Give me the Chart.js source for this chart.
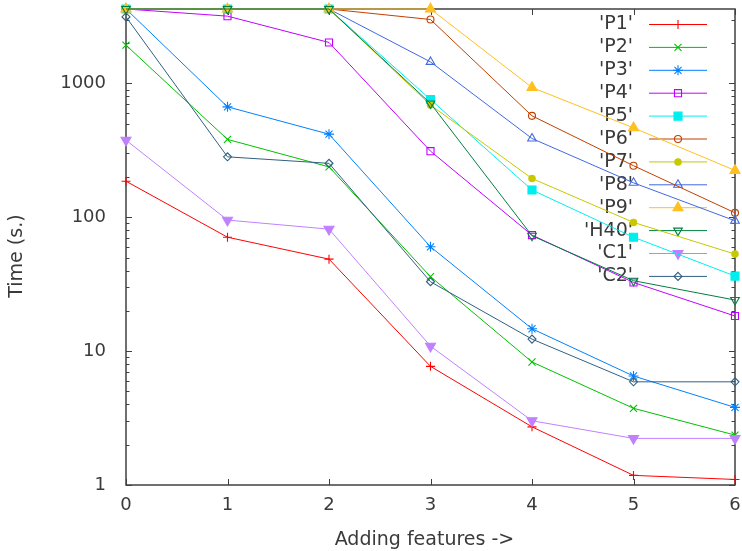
<!DOCTYPE html>
<html><head><meta charset="utf-8">
<script src="https://cdn.jsdelivr.net/npm/chart.js@4.4.1/dist/chart.umd.min.js"></script>
<style>html,body{margin:0;padding:0;background:#fff}#wrap{width:742px;height:551px;position:relative}</style>
</head><body><div id="wrap"><canvas id="c" width="742" height="551"></canvas></div>
<script>
// ---- data ----
const categories = ['0', '1', '2', '3', '4', '5', '6'];
const seriesNames = ["'P1'", "'P2'", "'P3'", "'P4'", "'P5'", "'P6'", "'P7'", "'P8'", "'P9'", "'H40'", "'C1'", "'C2'"];
const P1  = [186, 71, 48.7, 7.7, 2.72, 1.18, 1.10];
const P2  = [1932, 382, 238, 36, 8.3, 3.74, 2.36];
const P3  = [3600, 669, 418, 60.2, 14.7, 6.52, 3.8];
const P4  = [3600, 3183, 2024, 312, 73.6, 32.6, 18.3];
const P5  = [3600, 3600, 3600, 759, 160, 71, 36.4];
const P6  = [3600, 3600, 3600, 3005, 573, 243, 108];
const P7  = [3600, 3600, 3600, 690, 195, 91.6, 53.1];
const P8  = [3600, 3600, 3600, 1449, 388, 181, 94.2];
const P9  = [3600, 3600, 3600, 3600, 933, 466, 224];
const H40 = [3600, 3600, 3600, 709, 72.8, 33.6, 24.1];
const C1  = [377, 95.3, 81.6, 10.9, 3.02, 2.23, 2.23];
const C2  = [3143, 283, 253, 33, 12.3, 5.9, 5.9];
const yTickValues = [1, 10, 100, 1000];
const yMin = 1, yMax = 3600;

// ---- styles ----
const FONT = "'DejaVu Sans', sans-serif";
const TEXT = '#3a3a3a';
const seriesValues = [P1, P2, P3, P4, P5, P6, P7, P8, P9, H40, C1, C2];
const colors = ['#ff0000', '#00c000', '#0080ff', '#c000ff', '#00eeee', '#c04000', '#c8c800', '#4169e1', '#ffc020', '#008040', '#c080ff', '#306080'];
const marks = [
  {s: 'cross', r: 4.5, fill: false},
  {s: 'crossRot', r: 5, fill: false},
  {s: 'star', r: 5, fill: false},
  {s: 'rect', r: 5, fill: false},
  {s: 'rect', r: 5.7, fill: true},
  {s: 'circle', r: 3.5, fill: false},
  {s: 'circle', r: 3.2, fill: true},
  {s: 'triangle', r: 5, fill: false},
  {s: 'triangle', r: 5.8, fill: true},
  {s: 'triangle', r: 5, fill: false, rot: 180},
  {s: 'triangle', r: 5.8, fill: true, rot: 180},
  {s: 'rectRot', r: 4, fill: false}
];

const datasets = seriesValues.map((vals, i) => ({
  label: seriesNames[i],
  data: vals,
  borderColor: colors[i],
  backgroundColor: colors[i],
  borderWidth: 1,
  pointStyle: marks[i].s,
  pointRadius: marks[i].r,
  pointHoverRadius: marks[i].r,
  pointRotation: marks[i].rot || 0,
  pointBorderWidth: 1.1,
  pointBorderColor: colors[i],
  pointBackgroundColor: marks[i].fill ? colors[i] : 'rgba(0,0,0,0)',
  tension: 0,
  fill: false,
  clip: false,
  order: seriesValues.length - i
}));

const frameTicks = {
  id: 'frameTicks',
  beforeDatasetsDraw(chart) {
    const {ctx, chartArea: a, scales: {x, y}} = chart;
    ctx.save();
    ctx.strokeStyle = '#404040';
    ctx.lineWidth = 1;
    ctx.beginPath();
    x.ticks.forEach((t, i) => {
      const px = Math.round(x.getPixelForTick(i)) + 0.5;
      ctx.moveTo(px, a.bottom); ctx.lineTo(px, a.bottom - 6);
      ctx.moveTo(px, a.top); ctx.lineTo(px, a.top + 6);
    });
    for (let d = 1; d <= yMax; d *= 10) {
      for (let m = 1; m <= 9; m++) {
        const v = d * m;
        if (v > yMax) break;
        const py = Math.round(y.getPixelForValue(v)) + 0.5;
        const len = m === 1 ? 6 : 3.5;
        ctx.moveTo(a.left, py); ctx.lineTo(a.left + len, py);
        ctx.moveTo(a.right, py); ctx.lineTo(a.right - len, py);
      }
    }
    ctx.stroke();
    ctx.lineWidth = 1.5;
    ctx.strokeRect(a.left, a.top, a.right - a.left, a.bottom - a.top);
    ctx.restore();
  }
};

const keyPlugin = {
  id: 'keyPlugin',
  beforeDatasetsDraw(chart) {
    const {ctx, chartArea: a} = chart;
    ctx.save();
    ctx.font = '19px ' + FONT;
    ctx.textAlign = 'right';
    ctx.textBaseline = 'middle';
    chart.data.datasets.forEach((ds, i) => {
      const yy = a.top + 15.5 + i * 22.9;
      const textX = a.right - 102, l0 = a.right - 86, l1 = a.right - 28, mx = a.right - 57;
      ctx.fillStyle = TEXT;
      ctx.fillText(ds.label, textX, yy);
      ctx.strokeStyle = ds.borderColor;
      ctx.lineWidth = ds.borderWidth;
      ctx.beginPath(); ctx.moveTo(l0, yy); ctx.lineTo(l1, yy); ctx.stroke();
      ctx.fillStyle = ds.pointBackgroundColor;
      ctx.lineWidth = ds.pointBorderWidth;
      Chart.helpers.drawPoint(ctx, {pointStyle: ds.pointStyle, rotation: ds.pointRotation, radius: ds.pointRadius, borderWidth: ds.pointBorderWidth}, mx, yy);
    });
    ctx.restore();
  }
};

new Chart(document.getElementById('c'), {
  type: 'line',
  data: {labels: categories, datasets},
  options: {
    responsive: false,
    animation: false,
    events: [],
    layout: {padding: {top: 9, right: 7, left: 0, bottom: 0}},
    plugins: {legend: {display: false}, tooltip: {enabled: false}},
    scales: {
      x: {
        type: 'category',
        offset: false,
        grid: {display: false, drawTicks: false},
        border: {display: false},
        ticks: {padding: 10, color: TEXT, font: {family: FONT, size: 18}, maxRotation: 0, autoSkip: false},
        title: {display: true, text: 'Adding features ->  ', color: TEXT, font: {family: FONT, size: 19}, padding: {top: 0, bottom: 0}},
        afterFit(s) { s.height = 66; s.paddingLeft = 0; s.paddingRight = 0; }
      },
      y: {
        type: 'logarithmic',
        min: yMin,
        max: yMax,
        grid: {display: false, drawTicks: false},
        border: {display: false},
        afterBuildTicks(s) { s.ticks = yTickValues.map(v => ({value: v, major: true})); },
        ticks: {padding: 20, color: TEXT, font: {family: FONT, size: 18}, callback: v => String(v)},
        title: {display: true, text: 'Time (s.)   ', color: TEXT, font: {family: FONT, size: 19}, padding: {top: 6, bottom: 0}},
        afterFit(s) { s.width = 126; s.paddingTop = 0; s.paddingBottom = 0; }
      }
    }
  },
  plugins: [frameTicks, keyPlugin]
});
</script>
</body></html>
